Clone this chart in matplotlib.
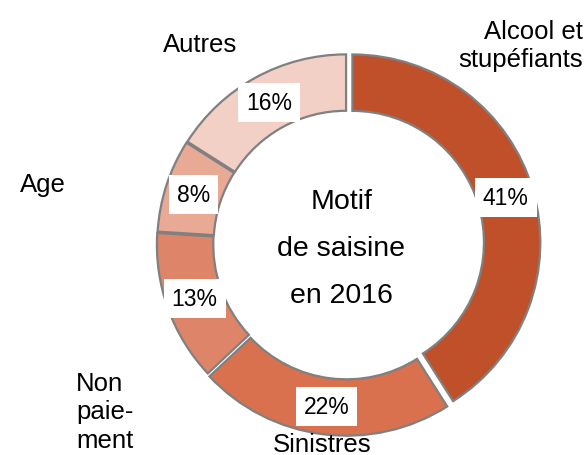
import numpy as np
import matplotlib.pyplot as plt

plt.rcParams['font.family'] = ['Liberation Sans', 'DejaVu Sans']

# Motif de saisine en 2016
categories = ['Alcool et\nstupéfiants', 'Sinistres', 'Non\npaie-\nment', 'Age', 'Autres']
values = [41, 22, 13, 8, 16]
colors = ['#C0502A', '#D9704E', '#DE8468', '#E8A995', '#F2D0C6']
explode = [0.03, 0.02, 0.012, 0.01, 0.01]

fig = plt.figure(figsize=(5.87, 4.56), dpi=100)
ax = fig.add_axes([0, 0, 1, 1])

wedges, texts, autotexts = ax.pie(
    values, colors=colors, explode=explode, startangle=90, counterclock=False,
    radius=1, autopct='%d%%', pctdistance=0.85,
    wedgeprops=dict(width=0.3, edgecolor='#808080', linewidth=1.6),
    textprops=dict(fontsize=16.5, color='black'))

for t in autotexts:
    t.set_bbox(dict(boxstyle='square,pad=0.35', facecolor='white', edgecolor='none'))

# category labels around the ring
ax.text(1.255, 1.06, categories[0], fontsize=18.5, ha='right', va='center', multialignment='right')
ax.text(-0.13, -1.065, categories[1], fontsize=18.5, ha='center', va='center')
ax.text(-1.44, -0.89, categories[2], fontsize=18.5, ha='left', va='center', linespacing=1.25)
ax.text(-1.62, 0.32, categories[3], fontsize=18.5, ha='center', va='center')
ax.text(-0.78, 1.065, categories[4], fontsize=18.5, ha='center', va='center')

ax.text(-0.03, -0.02, 'Motif\nde saisine\nen 2016', fontsize=20.5, ha='center', va='center',
        linespacing=2.05)

ax.set_xlim(-1.846, 1.277)
ax.set_ylim(-1.122, 1.303)
ax.set_aspect('equal')
ax.axis('off')

plt.savefig('out.png', dpi=100)
